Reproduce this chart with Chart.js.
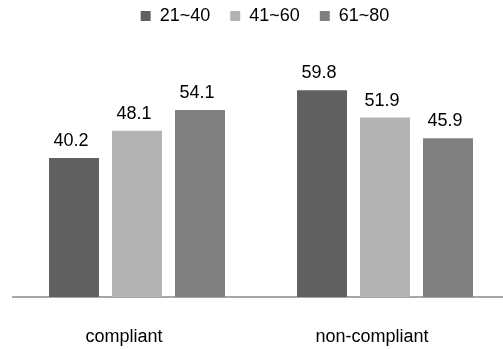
<!DOCTYPE html>
<html>
<head>
<meta charset="utf-8">
<script src="https://cdn.jsdelivr.net/npm/chart.js@4/dist/chart.umd.min.js"></script>
<style>
  html, body { margin: 0; padding: 0; background: #ffffff; overflow: hidden; width: 503px; height: 349px; }
  #wrap { width: 509px; height: 349px; }
</style>
</head>
<body>
<div id="wrap"><canvas id="c" width="509" height="349"></canvas></div>
<script>
// Share of respondents (%) by age group and compliance
const categories = ['compliant', 'non-compliant'];
const seriesNames = ['21~40', '41~60', '61~80'];
const age21to40 = [40.2, 59.8];
const age41to60 = [48.1, 51.9];
const age61to80 = [54.1, 45.9];
const seriesColors = ['#606060', '#b3b3b3', '#808080'];

const FONT = '"Liberation Sans", Arial, sans-serif';

// value labels drawn just above each bar
const valueLabels = {
  id: 'valueLabels',
  afterDatasetsDraw(chart) {
    const ctx = chart.ctx;
    ctx.save();
    ctx.font = '18px ' + FONT;
    ctx.fillStyle = '#000000';
    ctx.textAlign = 'center';
    ctx.textBaseline = 'alphabetic';
    chart.data.datasets.forEach((ds, i) => {
      chart.getDatasetMeta(i).data.forEach((bar, j) => {
        ctx.fillText(ds.data[j].toFixed(1), bar.x - 3, bar.y - 12);
      });
    });
    ctx.restore();
  }
};

// move the legend row up and slightly right, leaving the plot area where it is
const legendShift = {
  id: 'legendShift',
  afterLayout(chart) {
    const lg = chart.legend;
    if (lg) {
      lg.left += 4;
      lg.right += 4;
      lg.top -= 20;
      lg.bottom -= 20;
    }
  }
};

new Chart(document.getElementById('c'), {
  type: 'bar',
  data: {
    labels: categories,
    datasets: [
      { label: seriesNames[0], data: age21to40, backgroundColor: seriesColors[0] },
      { label: seriesNames[1], data: age41to60, backgroundColor: seriesColors[1] },
      { label: seriesNames[2], data: age61to80, backgroundColor: seriesColors[2] }
    ]
  },
  options: {
    responsive: false,
    animation: false,
    devicePixelRatio: 1,
    categoryPercentage: 0.762,
    barPercentage: 0.794,
    layout: { padding: { left: 13, right: 0, top: 7, bottom: 0 } },
    plugins: {
      tooltip: { enabled: false },
      legend: {
        position: 'top',
        labels: {
          boxWidth: 10,
          boxHeight: 10,
          padding: 20,
          color: '#000000',
          font: { family: FONT, size: 18 }
        }
      }
    },
    scales: {
      x: {
        grid: { display: false, drawTicks: false },
        border: { display: true, color: '#a6a6a6', width: 2 },
        ticks: {
          color: '#000000',
          font: { family: FONT, size: 18 },
          padding: 29,
          labelOffset: -13,
          maxRotation: 0
        },
        afterFit(scale) { scale.height = 52; }
      },
      y: {
        display: false,
        min: 0,
        max: 70
      }
    }
  },
  plugins: [valueLabels, legendShift]
});
</script>
</body>
</html>
